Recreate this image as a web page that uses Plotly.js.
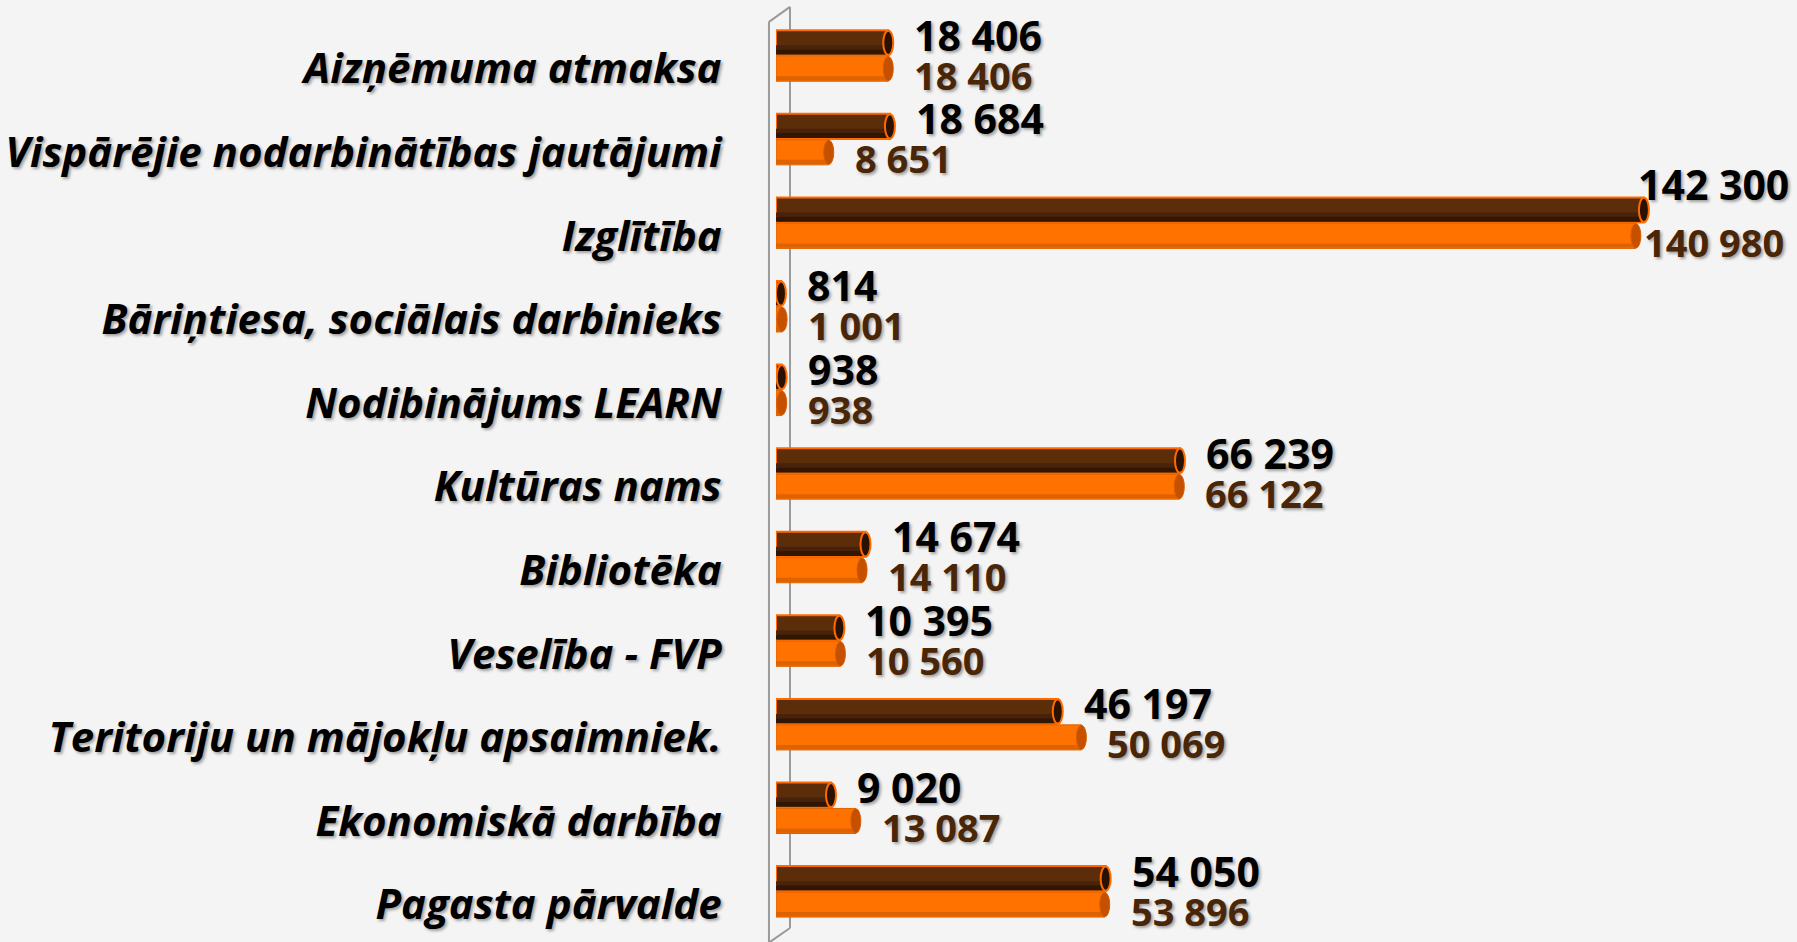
<!DOCTYPE html>
<html>
<head>
<meta charset="utf-8">
<script src="https://cdn.plot.ly/plotly-3.0.1.min.js"></script>
<style>
html,body{margin:0;padding:0;background:#f4f4f4;}
#chart{width:1797px;height:942px;}
</style>
</head>
<body>
<div id="chart"></div>
<script>
const categories = [
  "Aizņēmuma atmaksa",
  "Vispārējie nodarbinātības jautājumi",
  "Izglītība",
  "Bāriņtiesa, sociālais darbinieks",
  "Nodibinājums LEARN",
  "Kultūras nams",
  "Bibliotēka",
  "Veselība - FVP",
  "Teritoriju un mājokļu apsaimniek.",
  "Ekonomiskā darbība",
  "Pagasta pārvalde"
];
const seriesA = [18406, 18684, 142300, 814, 938, 66239, 14674, 10395, 46197, 9020, 54050];
const seriesB = [18406, 8651, 140980, 1001, 938, 66122, 14110, 10560, 50069, 13087, 53896];

function fmt(v){ return String(v).replace(/\B(?=(\d{3})+(?!\d))/g, " "); }

const shadow = "2px 2px 3px rgba(0,0,0,0.35)";
const xMax = 167400;

function band(values, offset, width, color){
  return {
    type: "bar", orientation: "h",
    x: values, y: categories,
    offset: offset, width: width,
    marker: {color: color, line: {width: 0}},
    hoverinfo: "skip"
  };
}

const traceA = {
  type: "bar", orientation: "h",
  x: seriesA, y: categories,
  offset: -0.46, width: 0.3,
  marker: {color: "#5b2d09", line: {color: "#ff6a00", width: 2}},
  hoverinfo: "skip"
};
const traceB = {
  type: "bar", orientation: "h",
  x: seriesB, y: categories,
  offset: -0.15, width: 0.3,
  marker: {color: "#ff7200", line: {color: "#e06200", width: 1}},
  hoverinfo: "skip"
};

const traces = [
  traceA,
  band(seriesA, -0.28, 0.05, "#48220a"),
  band(seriesA, -0.23, 0.06, "#321604"),
  traceB,
  band(seriesB, 0.09, 0.05, "#dd6200")
];

const annotations = [];
const shapes = [];
categories.forEach((c, i) => {
  const bigA = seriesA[i] > 0.8 * xMax;
  const bigB = seriesB[i] > 0.8 * xMax;
  annotations.push({
    x: seriesA[i], y: c, xref: "x", yref: "y",
    text: fmt(seriesA[i]), showarrow: false,
    xanchor: "left", yanchor: "middle", xshift: bigA ? -8 : 24, yshift: bigA ? 52 : 34,
    font: {family: "Open Sans", size: 41, color: "#000000", weight: "bold", shadow: shadow}
  });
  annotations.push({
    x: seriesB[i], y: c, xref: "x", yref: "y",
    text: fmt(seriesB[i]), showarrow: false,
    xanchor: "left", yanchor: "middle", xshift: bigB ? 6 : 24, yshift: -6,
    font: {family: "Open Sans", size: 38, color: "#4a2608", weight: "bold", shadow: shadow}
  });
  // cylinder end caps (positioned through the axes from the data values)
  shapes.push({
    type: "circle", xref: "x", yref: "y", xsizemode: "pixel", xanchor: seriesA[i],
    x0: -5, x1: 5, y0: i - 0.455, y1: i - 0.165,
    fillcolor: "#2a1203", line: {color: "#ff6a00", width: 2}, layer: "above"
  });
  shapes.push({
    type: "circle", xref: "x", yref: "y", xsizemode: "pixel", xanchor: seriesB[i],
    x0: -5, x1: 5, y0: i - 0.145, y1: i + 0.145,
    fillcolor: "#c45000", line: {color: "#d85c00", width: 1}, layer: "above"
  });
});

const wallColor = "#9a9a9a";
shapes.push(
  {type: "line", xref: "paper", yref: "paper", x0: -0.0069, y0: -0.005, x1: -0.0069, y1: 0.983, line: {color: wallColor, width: 2}, layer: "below"},
  {type: "line", xref: "paper", yref: "paper", x0: 0.0137, y0: 0.0107, x1: 0.0137, y1: 0.999, line: {color: wallColor, width: 2}, layer: "below"},
  {type: "line", xref: "paper", yref: "paper", x0: -0.0069, y0: 0.983, x1: 0.0137, y1: 0.999, line: {color: wallColor, width: 2}, layer: "below"},
  {type: "line", xref: "paper", yref: "paper", x0: 0.0137, y0: 0.0107, x1: -0.0069, y1: -0.005, line: {color: wallColor, width: 2}, layer: "below"}
);

const layout = {
  width: 1797, height: 942,
  paper_bgcolor: "#f4f4f4", plot_bgcolor: "#f4f4f4",
  margin: {l: 776, r: 0, t: 6, b: 4},
  showlegend: false,
  barmode: "overlay",
  xaxis: {range: [0, xMax], showgrid: false, zeroline: false, showticklabels: false, showline: false, ticks: ""},
  yaxis: {
    type: "category", range: [10.4, -0.75],
    showgrid: false, zeroline: false, showline: false,
    ticks: "outside", ticklen: 45, tickcolor: "rgba(0,0,0,0)",
    tickfont: {family: "Open Sans", size: 42, color: "#000000", weight: "bold", style: "italic", shadow: shadow}
  },
  annotations: annotations,
  shapes: shapes
};

Plotly.newPlot("chart", traces, layout, {displayModeBar: false, staticPlot: true});
</script>
</body>
</html>
